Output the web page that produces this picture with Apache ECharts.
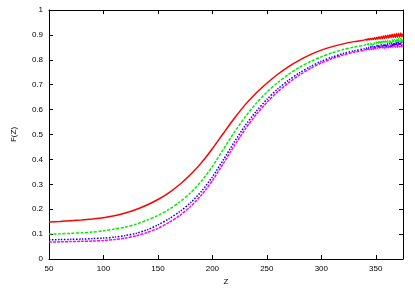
<!DOCTYPE html>
<html><head><meta charset="utf-8">
<script src="https://cdn.jsdelivr.net/npm/echarts@6/dist/echarts.min.js"></script>
<style>html,body{margin:0;padding:0;background:#fff}#c{width:415px;height:291px}</style>
</head><body><div id="c"></div>
<script>
const zMain = [50,60,70,80,90,100,110,120,130,140,150,160,170,180,190,200,210,220,230,240,250,260,270,280,290,300,310,320,330,340];
const zTail = [341,342,343,344,345,346,347,348,349,350,351,352,353,354,355,356,357,358,359,360,361,362,363,364,365,366,367,368,369,370,371,372,373,374,375];

const redMain = [.149,.151,.154,.157,.161,.166,.174,.185,.199,.217,.239,.266,.299,.339,.387,.443,.504,.564,.619,.666,.706,.742,.773,.799,.821,.839,.853,.864,.873,.880];
const redTail = [.883,.879,.885,.880,.886,.881,.887,.882,.889,.882,.891,.883,.893,.884,.894,.885,.896,.886,.898,.887,.899,.888,.901,.889,.903,.890,.904,.890,.906,.891,.907,.891,.908,.892,.905];

const greenMain = [.100,.101,.103,.105,.108,.113,.120,.128,.140,.156,.175,.199,.229,.266,.313,.372,.440,.508,.570,.624,.670,.709,.742,.770,.793,.812,.828,.841,.851,.859];
const greenTail = [.862,.859,.864,.860,.866,.861,.867,.862,.869,.863,.870,.864,.872,.865,.873,.866,.875,.867,.876,.868,.878,.868,.879,.869,.881,.870,.882,.870,.884,.871,.885,.872,.886,.872,.882];

const blueMain = [.077,.078,.079,.080,.082,.084,.088,.094,.103,.117,.137,.161,.190,.226,.272,.330,.398,.469,.535,.592,.641,.683,.718,.748,.773,.794,.811,.825,.836,.845];
const blueTail = [.848,.845,.850,.846,.852,.847,.854,.848,.856,.849,.857,.850,.859,.851,.860,.852,.862,.853,.863,.854,.865,.855,.866,.855,.868,.856,.869,.857,.871,.857,.872,.858,.873,.858,.868];

const magentaMain = [.068,.069,.070,.071,.072,.074,.078,.084,.093,.106,.123,.146,.175,.211,.257,.315,.383,.454,.521,.579,.629,.672,.708,.739,.765,.787,.805,.819,.830,.839];
const magentaTail = [.842,.839,.844,.840,.846,.841,.848,.842,.850,.843,.851,.844,.853,.845,.854,.846,.856,.846,.857,.847,.859,.848,.860,.848,.862,.849,.863,.850,.865,.850,.866,.851,.867,.851,.862];

const xTicks = [50,100,150,200,250,300,350];
const yTicks = [0,0.1,0.2,0.3,0.4,0.5,0.6,0.7,0.8,0.9,1];

function pairs(main, tail){
  const zs = zMain.concat(zTail), fs = main.concat(tail);
  return zs.map((z,i)=>[z, fs[i]]);
}

const chart = echarts.init(document.getElementById('c'), null, {renderer:'canvas'});
const font = 'Liberation Sans';
const lbl = {fontFamily:font, fontSize:8, color:'#000'};
const axisBase = {
  axisLine:{show:true, onZero:false, lineStyle:{color:'#000', width:1}},
  axisTick:{show:true, inside:true, length:4, lineStyle:{color:'#000', width:1}},
  splitLine:{show:false}
};
function mkSeries(data, color, type, width, z){
  return {type:'line', data:data, showSymbol:false, symbol:'none', smooth:0.25,
    lineStyle:{color:color, width:width, type:type}, z:z, animation:false};
}
chart.setOption({
  animation:false,
  grid:{left:49, right:12, top:10, bottom:27, containLabel:false},
  xAxis:[
    Object.assign({type:'value', min:50, max:375, interval:50, position:'bottom',
      name:'Z', nameLocation:'middle', nameGap:19, nameTextStyle:{fontFamily:font, fontSize:8, color:'#000'},
      axisLabel:Object.assign({margin:6, showMaxLabel:false, formatter:v=>xTicks.indexOf(v)>=0?String(v):''}, lbl)}, axisBase),
    Object.assign({type:'value', min:50, max:375, interval:50, position:'top',
      axisLabel:{show:false}}, axisBase)
  ],
  yAxis:[
    Object.assign({type:'value', min:0, max:1, interval:0.1, position:'left',
      name:'F(Z)', nameLocation:'middle', nameGap:31, nameRotate:90, nameTextStyle:{fontFamily:font, fontSize:8, color:'#000'},
      axisLabel:Object.assign({margin:6, formatter:v=>{const t=yTicks.find(q=>Math.abs(q-v)<1e-6);return t===undefined?'':String(t);}}, lbl)}, axisBase),
    Object.assign({type:'value', min:0, max:1, interval:0.1, position:'right',
      axisLabel:{show:false}}, axisBase)
  ],
  series:[
    mkSeries(pairs(magentaMain, magentaTail), '#ff00ff', [3,1], 1.5, 1),
    mkSeries(pairs(blueMain, blueTail), '#0000ff', [1.5,1.5], 1.5, 2),
    mkSeries(pairs(greenMain, greenTail), '#00ee00', [3,1.5], 1.5, 3),
    mkSeries(pairs(redMain, redTail), '#ff0000', 'solid', 1.5, 4)
  ]
});
</script></body></html>
